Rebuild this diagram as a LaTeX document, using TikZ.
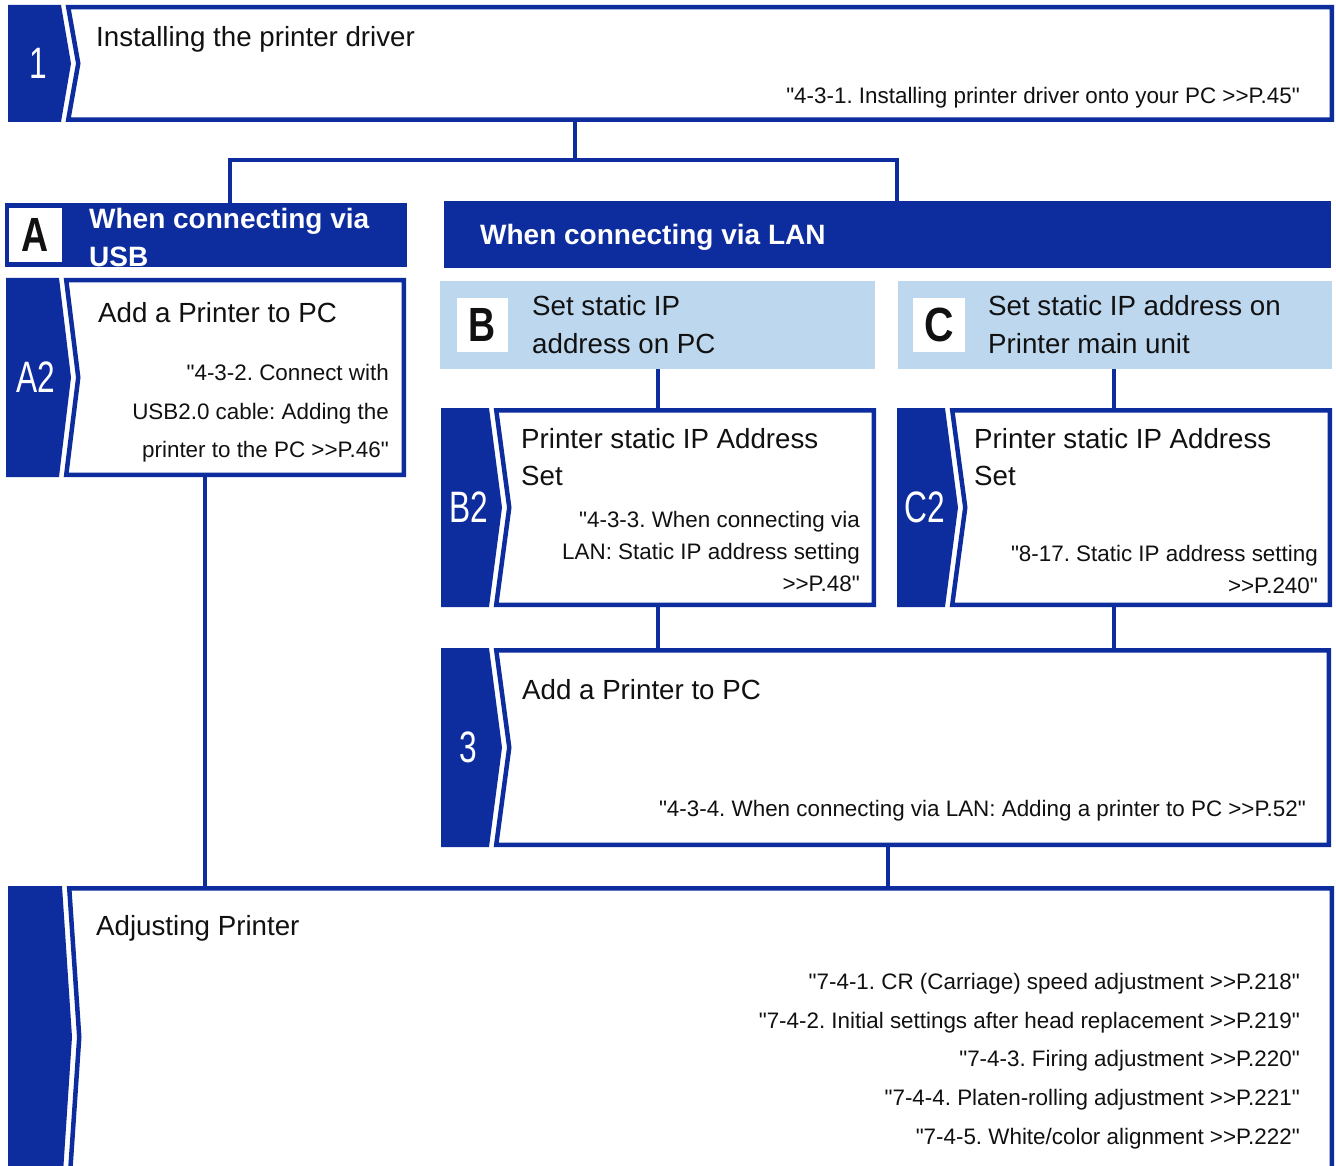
\documentclass[tikz,border=0pt]{standalone}
\usepackage{fontspec}
\usepackage{graphicx}
\setmainfont{Liberation Sans}[Ligatures=TeXOff]
\usetikzlibrary{calc}
\definecolor{dblue}{HTML}{0D2C9E}
\definecolor{lblue}{HTML}{BDD7EE}
\definecolor{ink}{HTML}{111111}
\newcommand\gtgt{>{}>}
\frenchspacing
\tikzset{
  conn/.style={draw=dblue, line width=4},
  tablabel/.style={text=white, inner sep=0, font=\fontsize{44}{44}\selectfont},
  ttl/.style={anchor=base west, inner sep=0, text=ink, font=\fontsize{27.7}{37}\selectfont},
  refl/.style={anchor=base east, inner sep=0, text=ink, font=\fontsize{22.4}{30}\selectfont},
  hdr/.style={anchor=base west, inner sep=0, text=white, font=\bfseries\fontsize{28}{38}\selectfont},
  letterbox/.style={fill=white, inner sep=0, text=ink, font=\bfseries\fontsize{48}{48}\selectfont},
  hbox/.style={inner sep=0, anchor=north west, outer sep=0},
}
% #1 name, #2 tab left x, #3 tab right x, #4 box right x, #5 top y, #6 bottom y, #7 depth, #8 label
\newcommand\flowstep[8]{%
  \fill[dblue] (#2,#5) -- (#3,#5) -- ({#3+#7},{(#5+#6)/2}) -- (#3,#6) -- (#2,#6) -- cycle;
  \draw[dblue, line width=4.5, line join=miter]
    ({#3+7.25},{#5+2.25}) -- ({#4-2.25},{#5+2.25}) -- ({#4-2.25},{#6-2.25})
    -- ({#3+7.25},{#6-2.25}) -- ({#3+7.25+#7},{(#5+#6)/2}) -- cycle;
  \node[hbox, minimum width={#4-#3-5}, minimum height={#6-#5}] (#1) at ({#3+5},#5) {};
  \node[tablabel] (#1t) at ({(#2+#3)/2+3.5},{(#5+#6)/2}) {\scalebox{0.72}[1]{#8}};
}
\begin{document}
\begin{tikzpicture}[x=1pt,y=-1pt]
\useasboundingbox (0,0) rectangle (1336,1166);
\fill[white] (0,0) rectangle (1336,1166);
\clip (0,0) rectangle (1336,1166);

% step 1
\flowstep{s1}{8}{61}{1334}{5}{122}{10}{1}
\node[ttl] (s1a) at (96,47) {Installing the printer driver};
\node[refl] (s1b) at (1300,104) {"4-3-1. Installing printer driver onto your PC \gtgt P.45"};

% headers
\node[hbox, fill=dblue, minimum width=402, minimum height=64] (hA) at (5,203) {};
\node[letterbox, minimum width=53, minimum height=54] (sqA) at (35.5,235) {\scalebox{0.78}[1]{A}};
\node[hdr] (hA1) at (89,229) {When connecting via};
\node[hdr] (hA2) at (89,267) {USB};

\node[hbox, fill=dblue, minimum width=887, minimum height=67] (hL) at (444,201) {};
\node[hdr] (hL1) at (480,245) {When connecting via LAN};

\node[hbox, fill=lblue, minimum width=435, minimum height=88] (hB) at (440,281) {};
\node[letterbox, minimum width=51, minimum height=54] (sqB) at (482.5,325) {\scalebox{0.78}[1]{B}};
\node[ttl] (hB1) at (532,316) {Set static IP};
\node[ttl] (hB2) at (532,353) {address on PC};

\node[hbox, fill=lblue, minimum width=434, minimum height=88] (hC) at (898,281) {};
\node[letterbox, minimum width=52, minimum height=54] (sqC) at (939,325) {\scalebox{0.85}[1]{C}};
\node[ttl] (hC1) at (988,316) {Set static IP address on};
\node[ttl] (hC2) at (988,353) {Printer main unit};

% A2
\flowstep{a2}{6}{59}{406}{278}{477}{12}{A2}
\node[ttl] (a2a) at (98,323) {Add a Printer to PC};
\node[refl] (a2b) at (389,380) {"4-3-2. Connect with};
\node[refl] (a2c) at (389,419) {USB2.0 cable: Adding the};
\node[refl] (a2d) at (389,457) {printer to the PC \gtgt P.46"};

% B2
\flowstep{b2}{441}{489}{876}{408}{607}{13}{B2}
\node[ttl] (b2a) at (521,448) {Printer static IP Address};
\node[ttl] (b2b) at (521,485) {Set};
\node[refl] (b2c) at (860,527) {"4-3-3. When connecting via};
\node[refl] (b2d) at (860,559) {LAN: Static IP address setting};
\node[refl] (b2e) at (860,591) {\gtgt P.48"};

% C2
\flowstep{c2}{897}{945}{1332}{408}{607}{13}{C2}
\node[ttl] (c2a) at (974,448) {Printer static IP Address};
\node[ttl] (c2b) at (974,485) {Set};
\node[refl] (c2c) at (1318,561) {"8-17. Static IP address setting};
\node[refl] (c2d) at (1318,593) {\gtgt P.240"};

% 3
\flowstep{s3}{441}{489}{1331}{648}{847}{13}{3}
\node[ttl] (s3a) at (522,699) {Add a Printer to PC};
\node[refl] (s3b) at (1306,816) {"4-3-4. When connecting via LAN: Adding a printer to PC \gtgt P.52"};

% Adjusting
\flowstep{adj}{8}{62}{1334}{886}{1188}{10}{}
\node[ttl] (adja) at (96,935) {Adjusting Printer};
\node[refl] (adjb) at (1300,989) {"7-4-1. CR (Carriage) speed adjustment \gtgt P.218"};
\node[refl] (adjc) at (1300,1028) {"7-4-2. Initial settings after head replacement \gtgt P.219"};
\node[refl] (adjd) at (1300,1066) {"7-4-3. Firing adjustment \gtgt P.220"};
\node[refl] (adje) at (1300,1105) {"7-4-4. Platen-rolling adjustment \gtgt P.221"};
\node[refl] (adjf) at (1300,1144) {"7-4-5. White/color alignment \gtgt P.222"};

% connectors
\coordinate (j1) at (575,160);
\coordinate (jA) at (230,160);
\coordinate (jL) at (897,160);
\coordinate (xB) at (658,0);
\coordinate (xC) at (1114,0);
\coordinate (x3) at (888,0);
\coordinate (xa) at (205,0);
\draw[conn] (s1.south -| j1) -- (j1);
\draw[conn] (hA.north -| jA) -- (jA) -- (jL) -- (hL.north -| jL);
\draw[conn] (hB.south -| xB) -- (b2.north -| xB);
\draw[conn] (hC.south -| xC) -- (c2.north -| xC);
\draw[conn] (b2.south -| xB) -- (s3.north -| xB);
\draw[conn] (c2.south -| xC) -- (s3.north -| xC);
\draw[conn] (s3.south -| x3) -- (adj.north -| x3);
\draw[conn] (a2.south -| xa) -- (adj.north -| xa);
\end{tikzpicture}
\end{document}
